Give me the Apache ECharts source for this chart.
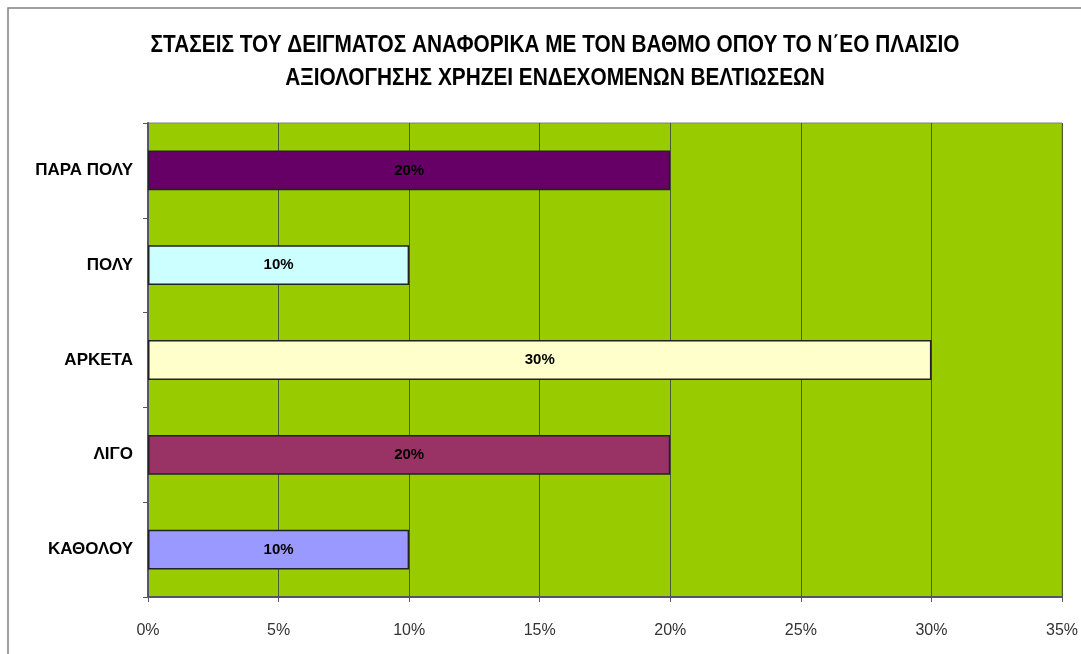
<!DOCTYPE html>
<html><head><meta charset="utf-8">
<script src="https://cdn.jsdelivr.net/npm/echarts@6/dist/echarts.min.js"></script>
<style>html,body{margin:0;padding:0;background:#fff}#c{width:1081px;height:654px}</style>
</head><body><div id="c"></div>
<script>
const titleLines = ["ΣΤΑΣΕΙΣ ΤΟΥ ΔΕΙΓΜΑΤΟΣ ΑΝΑΦΟΡΙΚΑ ΜΕ ΤΟΝ ΒΑΘΜΟ ΟΠΟΥ ΤΟ Ν΄ΕΟ ΠΛΑΙΣΙΟ", "ΑΞΙΟΛΟΓΗΣΗΣ ΧΡΗΖΕΙ ΕΝΔΕΧΟΜΕΝΩΝ ΒΕΛΤΙΩΣΕΩΝ"];
const categories = ["ΠΑΡΑ ΠΟΛΥ", "ΠΟΛΥ", "ΑΡΚΕΤΑ", "ΛΙΓΟ", "ΚΑΘΟΛΟΥ"];
const values = [20, 10, 30, 20, 10];
const barColors = ["#660066", "#CCFFFF", "#FFFFCC", "#993366", "#9999FF"];

const chart = echarts.init(document.getElementById('c'), null, {renderer: 'canvas'});
const titleGraphics = titleLines.map((t, i) => ({
  type: 'text', x: 555, y: 46 + i * 33, scaleX: 0.905, silent: true,
  style: {text: t, align: 'center', verticalAlign: 'middle', fill: '#000',
    font: 'bold 23px "Liberation Sans", Arial, sans-serif'}
}));
chart.setOption({
  backgroundColor: '#fff',
  animation: false,
  graphic: [{type: 'rect', shape: {x: 8, y: 8, width: 1090, height: 660}, style: {fill: 'none', stroke: '#808080', lineWidth: 1.5}, silent: true}].concat(titleGraphics),
  grid: {left: 148, right: 18, top: 123, bottom: 57, containLabel: false,
    show: true, backgroundColor: '#99CC00', borderColor: '#808080', borderWidth: 1},
  xAxis: {
    type: 'value', min: 0, max: 35, interval: 5,
    axisLine: {show: true, lineStyle: {color: '#555566', width: 2}},
    axisTick: {show: true, length: 5, lineStyle: {color: '#555566'}},
    splitLine: {show: true, lineStyle: {color: '#4d5a33', width: 1}},
    axisLabel: {formatter: v => v + '%', color: '#333', fontFamily: 'Liberation Sans, Arial', fontSize: 16, margin: 26}
  },
  yAxis: {
    type: 'category', data: categories, inverse: true,
    axisLine: {show: true, lineStyle: {color: '#555566', width: 2}},
    axisTick: {show: true, length: 5, lineStyle: {color: '#555566'}},
    axisLabel: {color: '#000', fontFamily: 'Liberation Sans, Arial', fontWeight: 'bold', fontSize: 17, margin: 15}
  },
  series: [{
    type: 'bar', barCategoryGap: '58%',
    data: values.map((v, i) => ({value: v, itemStyle: {color: barColors[i]}})),
    itemStyle: {borderColor: '#222', borderWidth: 1.5},
    label: {show: true, position: 'inside', formatter: p => p.value + '%', color: '#000', fontWeight: 'bold', fontFamily: 'Liberation Sans, Arial', fontSize: 15}
  }]
});
</script></body></html>
